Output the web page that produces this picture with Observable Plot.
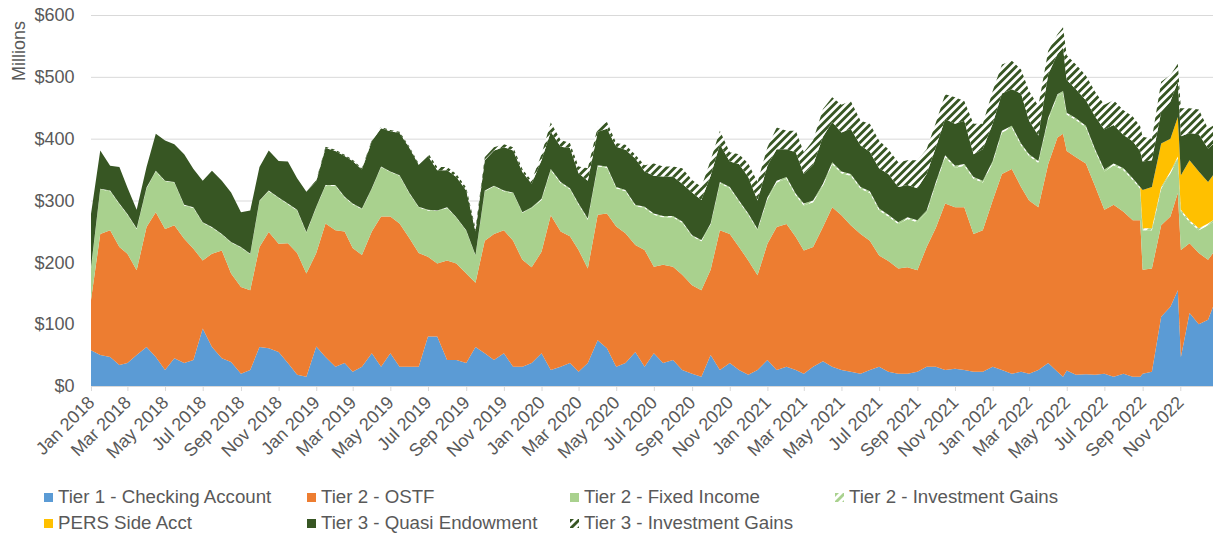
<!DOCTYPE html>
<html>
<head>
<meta charset="utf-8">
<script src="https://cdn.jsdelivr.net/npm/d3@7"></script>
<script src="https://cdn.jsdelivr.net/npm/@observablehq/plot@0.6"></script>
<style>
  body { margin: 0; background: #fff; font-family: "Liberation Sans", Arial, sans-serif; }
  #wrap { position: relative; width: 1213px; height: 536px; overflow: hidden; }
  #chart svg { display: block; }
  #chart [aria-label="x-axis tick"] { stroke: #D9D9D9; }
  .item { position: absolute; font-size: 18.7px; color: #595959; display: flex; align-items: center; white-space: nowrap; height: 22px; }
  .sw { width: 9px; height: 9px; margin-right: 5px; flex: none; }
</style>
</head>
<body>
<svg width="0" height="0" style="position:absolute">
  <defs>
    <pattern id="t2gains" patternUnits="userSpaceOnUse" width="5.66" height="5.66" patternTransform="rotate(45)">
      <rect width="5.66" height="5.66" fill="#ffffff"></rect>
      <rect width="2.83" height="5.66" fill="#A9D18E"></rect>
    </pattern>
    <pattern id="t3gains" patternUnits="userSpaceOnUse" width="5.66" height="5.66" patternTransform="rotate(45)">
      <rect width="5.66" height="5.66" fill="#ffffff"></rect>
      <rect width="2.83" height="5.66" fill="#375623"></rect>
    </pattern>
  </defs>
</svg>
<div id="wrap">
  <div id="chart"></div>
  <div id="legend"></div>
</div>
<script>
// ---- Data (Millions of $) ----
const dates = [
  "2018-01-01","2018-01-16","2018-02-01","2018-02-16","2018-03-01","2018-03-16","2018-04-01","2018-04-16","2018-05-01","2018-05-16","2018-06-01","2018-06-16","2018-07-01","2018-07-16","2018-08-01","2018-08-16","2018-09-01","2018-09-16","2018-10-01","2018-10-16","2018-11-01","2018-11-16","2018-12-01","2018-12-16",
  "2019-01-01","2019-01-16","2019-02-01","2019-02-16","2019-03-01","2019-03-16","2019-04-01","2019-04-16","2019-05-01","2019-05-16","2019-06-01","2019-06-16","2019-07-01","2019-07-16","2019-08-01","2019-08-16","2019-09-01","2019-09-16","2019-10-01","2019-10-16","2019-11-01","2019-11-16","2019-12-01","2019-12-16",
  "2020-01-01","2020-01-16","2020-02-01","2020-02-16","2020-03-01","2020-03-16","2020-04-01","2020-04-16","2020-05-01","2020-05-16","2020-06-01","2020-06-16","2020-07-01","2020-07-16","2020-08-01","2020-08-16","2020-09-01","2020-09-16","2020-10-01","2020-10-16","2020-11-01","2020-11-16","2020-12-01","2020-12-16",
  "2021-01-01","2021-01-16","2021-02-01","2021-02-16","2021-03-01","2021-03-16","2021-04-01","2021-04-16","2021-05-01","2021-05-16","2021-06-01","2021-06-16","2021-07-01","2021-07-16","2021-08-01","2021-08-16","2021-09-01","2021-09-16","2021-10-01","2021-10-16","2021-11-01","2021-11-16","2021-12-01","2021-12-16",
  "2022-01-01","2022-01-16","2022-02-01","2022-02-16","2022-03-01","2022-03-16","2022-04-01","2022-04-16","2022-04-25","2022-05-01","2022-05-16","2022-06-01","2022-06-16","2022-07-01","2022-07-16","2022-08-01","2022-08-16","2022-08-28","2022-09-01","2022-09-16","2022-10-01","2022-10-16","2022-10-28","2022-11-02","2022-11-16","2022-12-01","2022-12-16","2022-12-24"
];

const tier1Checking = [
  58,50,47,34,37,50,63,47,26,45,37,42,93,63,45,39,20,26,63,61,55,37,18,15,
  64,47,31,37,23,31,53,31,53,31,31,31,80,80,42,42,37,63,53,42,53,31,31,37,
  53,26,31,37,23,37,74,61,31,37,55,31,53,37,42,26,20,15,50,26,37,26,18,26,
  42,26,31,26,20,31,40,31,26,23,20,26,31,23,20,20,23,31,31,26,28,26,23,23,
  31,26,20,23,20,26,37,23,15,25,18,19,18,20,15,20,15,15,20,23,112,128,155,47,118,100,107,128
];
const tier2Ostf = [
  81,196,205,191,177,137,194,234,228,215,201,180,110,151,174,143,140,129,162,188,175,194,197,167,
  151,216,221,213,200,181,197,243,221,232,208,184,129,118,161,156,145,104,182,204,199,204,173,155,
  164,250,219,205,197,153,203,218,227,210,173,189,140,159,151,154,143,140,138,226,209,199,185,153,
  188,231,231,215,199,194,217,258,250,237,226,209,180,179,170,172,164,194,225,269,261,263,223,229,
  269,317,331,299,280,263,322,379,393,355,352,341,305,265,278,262,253,253,168,167,148,146,157,173,113,115,97,87
];
const tier2FixedIncome = [
  52,72,63,69,63,67,63,66,77,69,54,66,61,42,26,50,64,58,74,66,74,63,69,66,
  74,61,72,55,71,74,69,80,72,77,72,74,75,85,85,74,69,44,80,77,63,77,76,96,
  84,73,78,76,73,79,78,74,62,68,63,68,84,77,80,84,79,79,73,76,74,73,74,73,
  72,72,73,67,73,72,67,70,68,80,73,77,73,72,72,78,78,56,71,75,64,67,89,77,
  61,67,67,67,72,72,72,67,66,59,60,58,57,62,64,67,65,51,64,62,59,70,56,62,34,37,56,50
];
const tier2InvestmentGains = [
  1,1,1,1,1,1,1,1,1,1,1,1,1,1,1,1,1,1,1,1,1,1,1,1,
  1,1,1,1,1,1,1,1,1,1,1,1,1,1,1,1,1,1,1,1,1,1,1,1,
  2,2,2,2,2,2,2,2,2,2,2,2,2,2,2,2,2,2,2,2,2,2,2,2,
  3,3,3,3,3,3,3,3,3,3,3,3,3,3,3,3,3,3,3,3,3,3,3,3,
  3,3,3,3,3,3,3,3,3,3,3,3,3,3,3,3,3,3,3,3,3,3,3,3,3,3,3,3
];
const persSideAcct = [
  0,0,0,0,0,0,0,0,0,0,0,0,0,0,0,0,0,0,0,0,0,0,0,0,
  0,0,0,0,0,0,0,0,0,0,0,0,0,0,0,0,0,0,0,0,0,0,0,0,
  0,0,0,0,0,0,0,0,0,0,0,0,0,0,0,0,0,0,0,0,0,0,0,0,
  0,0,0,0,0,0,0,0,0,0,0,0,0,0,0,0,0,0,0,0,0,0,0,0,
  0,0,0,0,0,0,0,0,0,0,0,0,0,0,0,0,0,0,62,67,70,53,64,56,97,92,67,73
];
const tier3QuasiEndowment = [
  86,62,40,59,43,30,33,60,65,61,82,62,67,91,86,80,56,70,54,65,59,68,51,65,
  41,60,55,66,69,63,76,62,65,68,73,68,87,65,60,65,64,38,49,57,70,68,65,38,
  62,60,57,65,49,61,54,61,65,65,75,57,61,64,64,61,69,65,77,61,41,59,59,46,
  51,51,45,67,48,57,76,65,63,73,67,64,65,66,57,52,52,59,56,59,68,70,37,51,
  60,60,59,81,54,41,70,65,70,53,47,41,53,65,62,54,60,58,46,43,51,60,57,63,44,60,54,50
];
const tier3InvestmentGains = [
  0,0,0,0,0,0,0,0,0,0,0,0,0,0,0,0,0,0,0,0,0,0,0,0,
  2,2,2,2,2,2,2,2,2,2,2,2,5,5,5,5,5,5,5,5,5,5,5,5,
  10,15,11,8,11,20,8,11,6,8,6,10,20,16,16,25,20,21,25,22,15,16,22,30,
  30,35,30,35,35,40,45,40,45,45,40,45,45,40,40,40,45,40,40,40,43,32,49,41,
  53,47,46,39,48,48,38,32,33,40,40,40,40,40,40,40,40,40,40,35,49,43,29,45,40,40,32,30
];

const seriesNames = [
  "Tier 1 - Checking Account",
  "Tier 2 - OSTF",
  "Tier 2 - Fixed Income",
  "Tier 2 - Investment Gains",
  "PERS Side Acct",
  "Tier 3 - Quasi Endowment",
  "Tier 3 - Investment Gains"
];
const seriesValues = [tier1Checking, tier2Ostf, tier2FixedIncome, tier2InvestmentGains, persSideAcct, tier3QuasiEndowment, tier3InvestmentGains];
const seriesFills = ["#5B9BD5", "#ED7D31", "#A9D18E", "url(#t2gains)", "#FFC000", "#375623", "url(#t3gains)"];
const yTicks = [0, 100, 200, 300, 400, 500, 600];

// ---- Build tidy table ----
const rows = [];
seriesNames.forEach((name, k) => {
  seriesValues[k].forEach((v, i) => rows.push({date: new Date(dates[i]), series: name, value: v}));
});

const x0 = new Date(dates[0]);
const x1 = new Date(dates[dates.length - 1]);

const chart = Plot.plot({
  width: 1213,
  height: 480,
  marginLeft: 91,
  marginRight: 0,
  marginTop: 15,
  marginBottom: 94,
  style: {fontFamily: '"Liberation Sans", Arial, sans-serif', fontSize: "18px", color: "#595959", background: "#fff", overflow: "visible"},
  x: {
    type: "utc",
    domain: [x0, x1],
    ticks: d3.utcMonth.range(x0, x1, 2),
    tickFormat: d3.utcFormat("%b %Y"),
    tickRotate: -45,
    tickSize: 5,
    tickPadding: 8,
    label: null
  },
  y: {
    domain: [0, 600],
    ticks: yTicks,
    tickFormat: d => "$" + d,
    tickSize: 0,
    tickPadding: 17,
    label: null
  },
  color: {domain: seriesNames, range: seriesFills},
  marks: [
    Plot.ruleY(yTicks, {stroke: "#D9D9D9", strokeWidth: 1}),
    Plot.areaY(rows, {x: "date", y: "value", z: "series", fill: "series", order: seriesNames}),
  ]
});

d3.select(chart).append("text")
  .attr("transform", "translate(25,51) rotate(-90)")
  .attr("text-anchor", "middle")
  .attr("fill", "#595959")
  .attr("font-size", 18)
  .text("Millions");

document.getElementById("chart").appendChild(chart);

// ---- Legend ----
const legendPos = [
  [44, 486], [307, 486], [570, 486], [835, 486],
  [44, 512], [307, 512], [570, 512]
];
const legend = document.getElementById("legend");
seriesNames.forEach((name, k) => {
  const item = document.createElement("div");
  item.className = "item";
  item.style.left = legendPos[k][0] + "px";
  item.style.top = legendPos[k][1] + "px";
  const fill = seriesFills[k];
  item.innerHTML = `<svg class="sw" width="9" height="9"><rect width="9" height="9" fill="${fill}"></rect></svg><span>${name}</span>`;
  legend.appendChild(item);
});
</script>
</body>
</html>
